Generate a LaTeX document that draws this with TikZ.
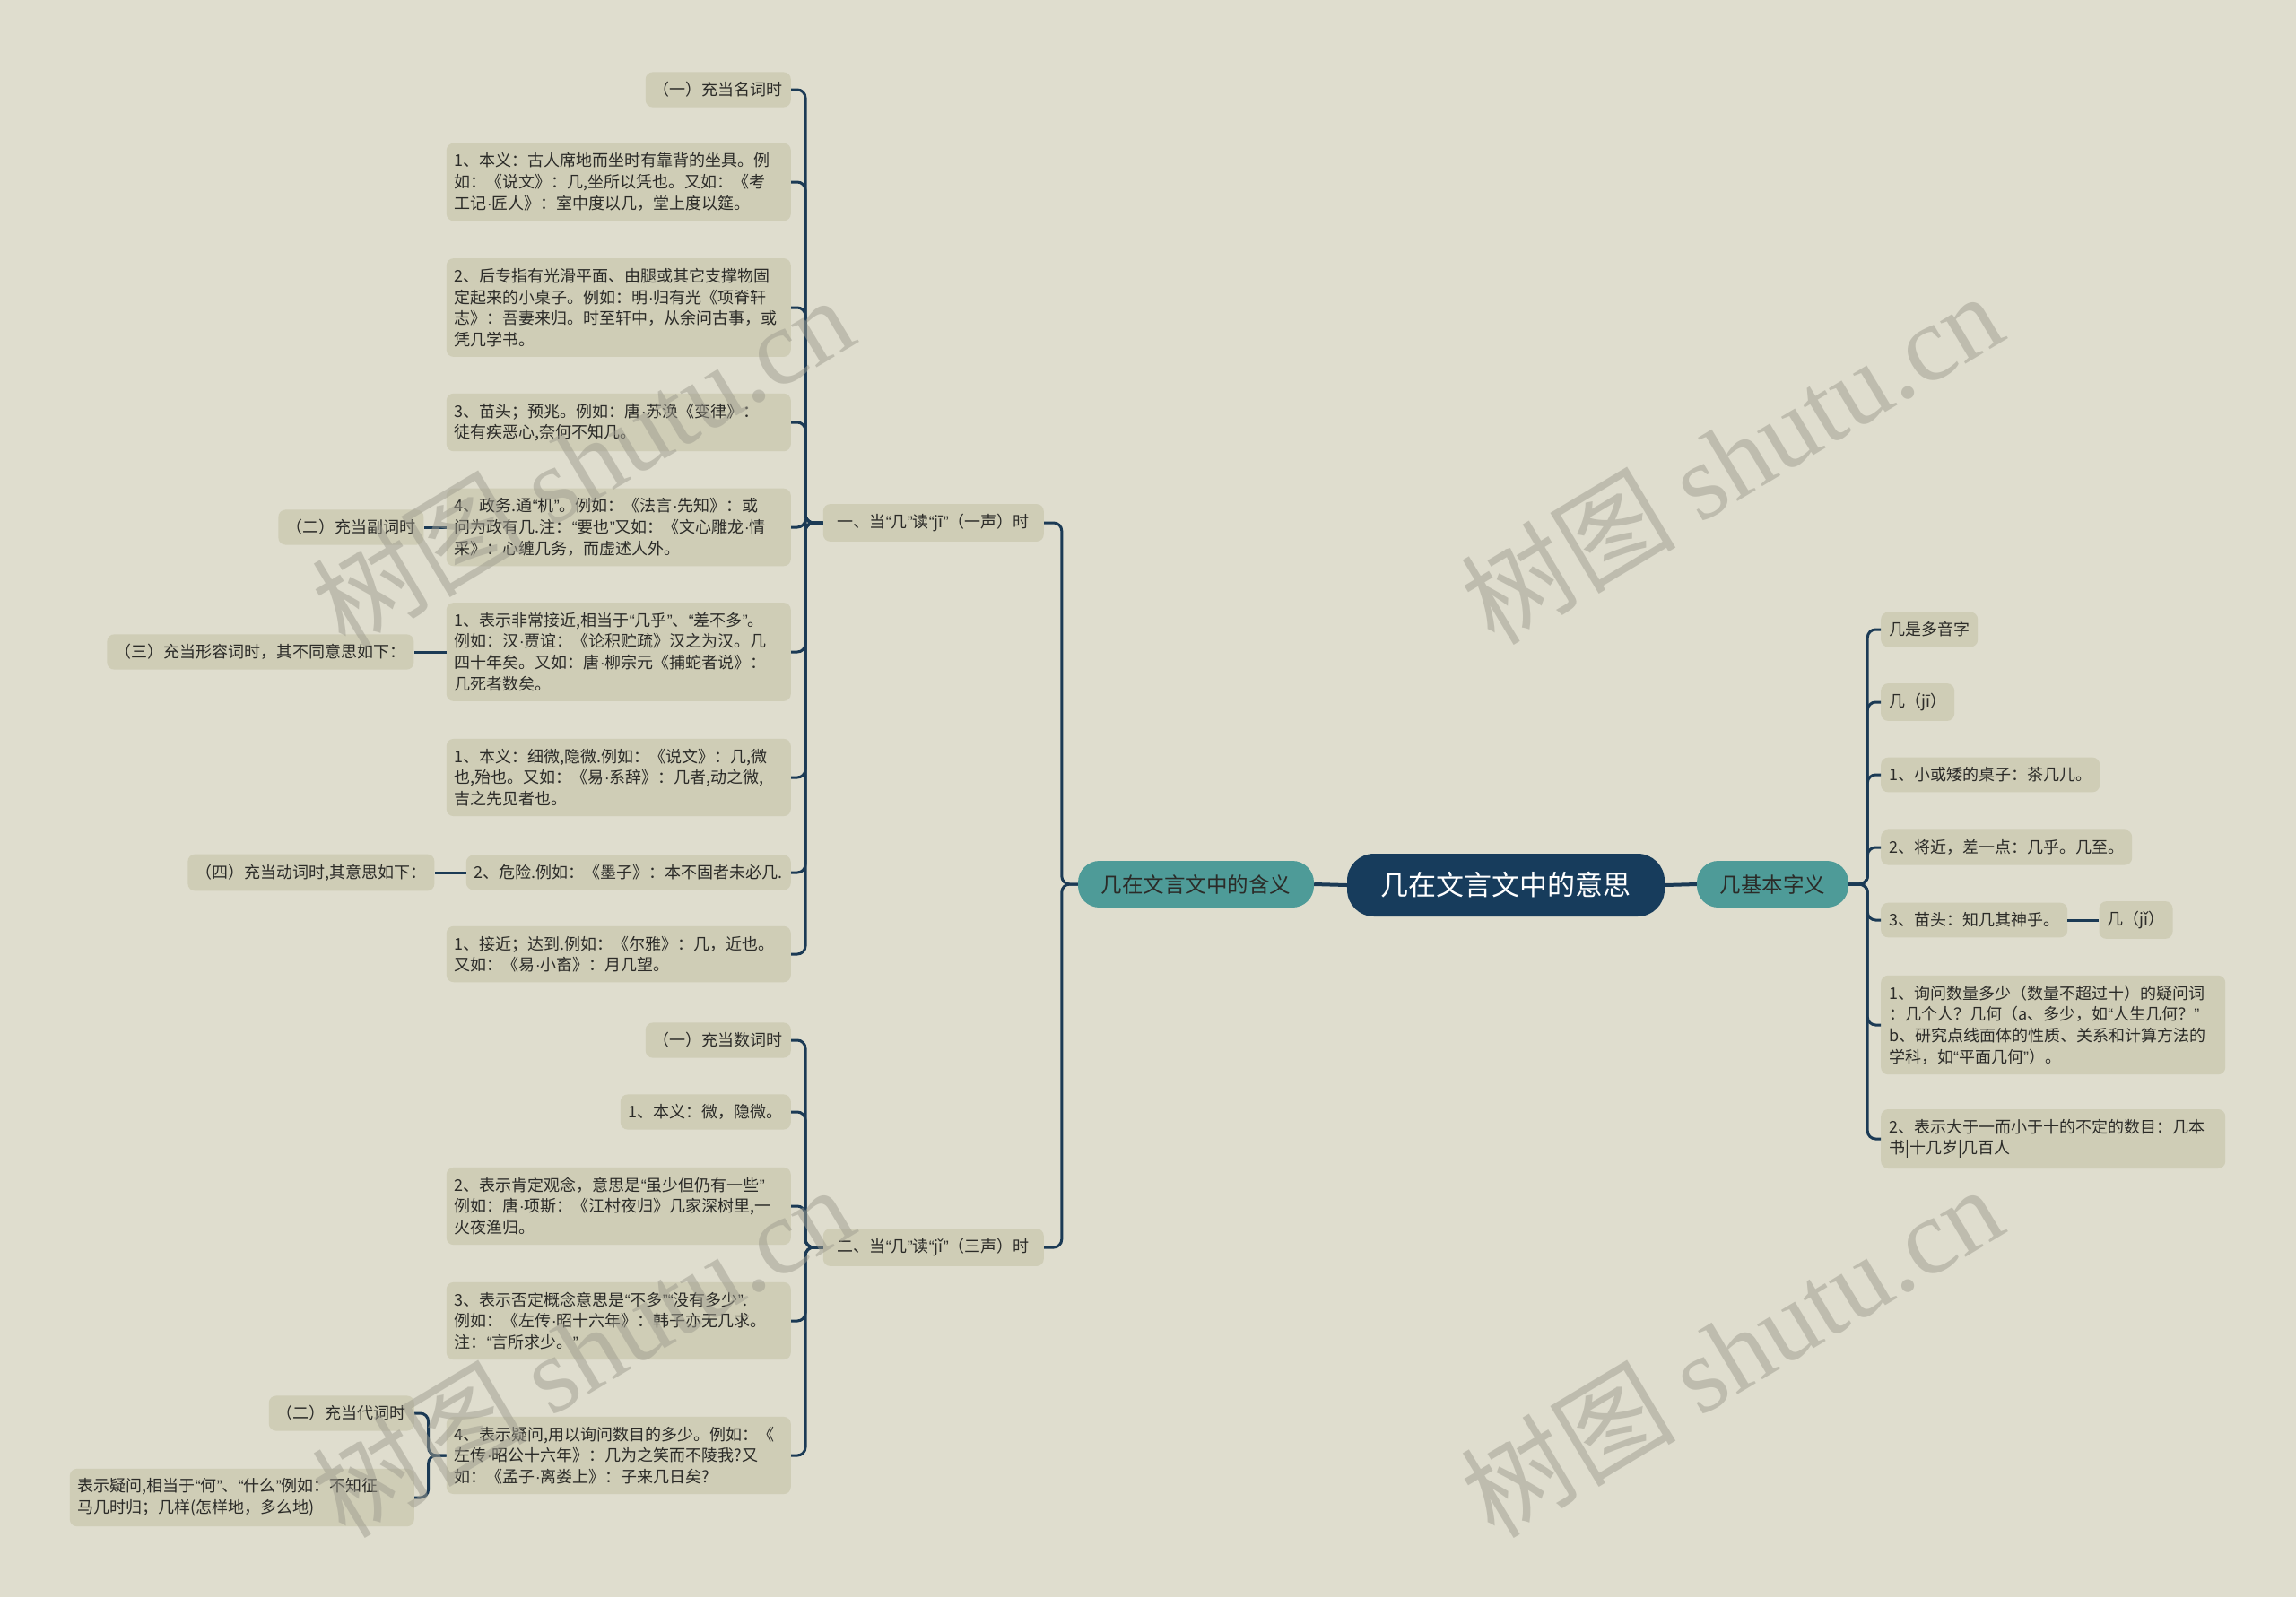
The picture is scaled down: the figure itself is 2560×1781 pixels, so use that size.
\documentclass[tikz,border=0pt]{standalone}
\usepackage{fontspec}
\usepackage{newunicodechar}
\setmainfont{Noto Sans CJK SC}
\newfontfamily\marcalatin{Liberation Serif}
\newfontfamily\signos{Liberation Sans}
% comillas y punto medio estrechos, como en el original
\newunicodechar{“}{{\signos\symbol{"201C}}}
\newunicodechar{”}{{\signos\symbol{"201D}}}
\newunicodechar{·}{{\signos\symbol{"00B7}}}
\usetikzlibrary{positioning,calc}
\definecolor{fondo}{HTML}{DFDDCE}
\definecolor{caja}{HTML}{CFCDB6}
\definecolor{azulosc}{HTML}{173C5C}
\definecolor{verdeazul}{HTML}{4E9B98}
\definecolor{linea}{HTML}{1B3A55}
\definecolor{texto}{HTML}{2B2B28}
\definecolor{marca}{HTML}{9E9C8F}
\tikzset{
    raiz/.style={
        rectangle,
        rounded corners=30pt,     % forma de píldora
        fill=azulosc,             % azul oscuro para el tema central
        text=white,
        minimum width=354pt,
        minimum height=70pt,
        font=\fontsize{31pt}{36pt}\selectfont
    },
    rama/.style={
        rectangle,
        rounded corners=24pt,     % también redondeada
        fill=verdeazul,           % verde azulado para las ramas principales
        text=texto,
        minimum height=52pt,
        font=\fontsize{23.5pt}{28pt}\selectfont
    },
    hoja/.style={
        rectangle,
        rounded corners=8pt,      % esquinas suaves
        fill=caja,                % relleno beige algo más oscuro que el fondo
        text=texto,
        inner xsep=9pt,
        inner ysep=11pt,
        font=\fontsize{18pt}{23.7pt}\selectfont
    },
    hojaancha/.style={
        hoja,
        text width=366pt,         % cajas de párrafo, todas del mismo ancho
        align=left
    },
    enlace/.style={
        draw=linea,
        line width=3pt,
        rounded corners=9pt       % curva al salir de la barra vertical
    },
    marcaagua/.style={
        text=marca,
        opacity=0.5,
        rotate=31,
        font=\fontsize{120pt}{130pt}\selectfont
    }
}
\begin{document}
\begin{tikzpicture}[x=1pt,y=-1pt]
    \fill[fondo] (0,0) rectangle (2560,1781);
    \useasboundingbox (0,0) rectangle (2560,1781);

    % centro y ramas
    \node[raiz] (raiz) at (1679,987) {几在文言文中的意思};
    \node[rama, minimum width=263pt] (hanyi) at (1333.5,986) {几在文言文中的含义};
    \node[rama, minimum width=169pt] (ziyi) at (1976.5,986) {几基本字义};

    \node[hoja, anchor=east, minimum width=246pt] (yisheng) at (1164,583) {一、当“几”读“jī”（一声）时};
    \node[hoja, anchor=east, minimum width=246pt] (sansheng) at (1164,1391) {二、当“几”读“jǐ”（三声）时};
    \coordinate (barra1) at (898,583);
    \coordinate (barra2) at (898,1391);

    % una voz
    \node[hoja, anchor=east] (a1) at (882,100) {（一）充当名词时};
    \node[hojaancha, anchor=east] (a2) at (882,203) {1、本义：古人席地而坐时有靠背的坐具。例\\如：《说文》：几,坐所以凭也。又如：《考\\工记·匠人》：室中度以几，堂上度以筵。};
    \node[hojaancha, anchor=east] (a3) at (882,343) {2、后专指有光滑平面、由腿或其它支撑物固\\定起来的小桌子。例如：明·归有光《项脊轩\\志》：吾妻来归。时至轩中，从余问古事，或\\凭几学书。};
    \node[hojaancha, anchor=east] (a4) at (882,471) {3、苗头；预兆。例如：唐·苏涣《变律》：\\徒有疾恶心,奈何不知几。};
    \node[hojaancha, anchor=east] (a5) at (882,588) {4、政务.通“机”。例如：《法言·先知》：或\\问为政有几.注：“要也”又如：《文心雕龙·情\\采》：心缠几务，而虚述人外。};
    \node[hojaancha, anchor=east] (a6) at (882,727) {1、表示非常接近,相当于“几乎”、“差不多”。\\例如：汉·贾谊：《论积贮疏》汉之为汉。几\\四十年矣。又如：唐·柳宗元《捕蛇者说》：\\几死者数矣。};
    \node[hojaancha, anchor=east] (a7) at (882,867) {1、本义：细微,隐微.例如：《说文》：几,微\\也,殆也。又如：《易·系辞》：几者,动之微,\\吉之先见者也。};
    \node[hoja, anchor=east] (a8) at (882,973) {2、危险.例如：《墨子》：本不固者未必几.};
    \node[hojaancha, anchor=east] (a9) at (882,1064) {1、接近；达到.例如：《尔雅》：几，近也。\\又如：《易·小畜》：月几望。};

    \node[hoja, left=25pt of a5] (b5) {（二）充当副词时};
    \node[hoja, left=36pt of a6] (b6) {（三）充当形容词时，其不同意思如下：};
    \node[hoja, left=35pt of a8] (b8) {（四）充当动词时,其意思如下：};

    % tres voces
    \node[hoja, anchor=east] (d1) at (882,1160) {（一）充当数词时};
    \node[hoja, anchor=east] (d2) at (882,1240) {1、本义：微，隐微。};
    \node[hojaancha, anchor=east] (d3) at (882,1345) {2、表示肯定观念，意思是“虽少但仍有一些”\\例如：唐·项斯：《江村夜归》几家深树里,一\\火夜渔归。};
    \node[hojaancha, anchor=east] (d4) at (882,1473) {3、表示否定概念意思是“不多”“没有多少”.\\例如：《左传·昭十六年》：韩子亦无几求。\\注：“言所求少。”};
    \node[hojaancha, anchor=east] (d5) at (882,1623) {4、表示疑问,用以询问数目的多少。例如：《\\左传·昭公十六年》：几为之笑而不陵我?又\\如：《孟子·离娄上》：子来几日矣?};

    \node[hoja, anchor=east] (e1) at (462,1576) {（二）充当代词时};
    \node[hojaancha, anchor=east] (e2) at (462,1670) {表示疑问,相当于“何”、“什么”例如：不知征\\马几时归；几样(怎样地，多么地)};

    % lado derecho
    \node[hoja, anchor=west] (r1) at (2097,702) {几是多音字};
    \node[hoja, anchor=west] (r2) at (2097,783) {几（jī）};
    \node[hoja, anchor=west] (r3) at (2097,864) {1、小或矮的桌子：茶几儿。};
    \node[hoja, anchor=west] (r4) at (2097,945) {2、将近，差一点：几乎。几至。};
    \node[hoja, anchor=west] (r5) at (2097,1026) {3、苗头：知几其神乎。};
    \node[hojaancha, anchor=west] (r6) at (2097,1143) {1、询问数量多少（数量不超过十）的疑问词\\：几个人？几何（a、多少，如“人生几何？”\\b、研究点线面体的性质、关系和计算方法的\\学科，如“平面几何”）。};
    \node[hojaancha, anchor=west] (r7) at (2097,1270) {2、表示大于一而小于十的不定的数目：几本\\书|十几岁|几百人};
    \node[hoja, right=35pt of r5] (r5b) {几（jǐ）};

    % conexiones
    \draw[enlace, line width=4pt] (raiz.west) -- (hanyi.east);
    \draw[enlace, line width=4pt] (raiz.east) -- (ziyi.west);
    \foreach \n in {yisheng,sansheng}
        \draw[enlace] (hanyi.west) -- ++(-18,0) |- (\n.east);
    \foreach \i in {1,...,9}
        \draw[enlace] (yisheng.west) -- (barra1) |- (a\i.east);
    \foreach \i in {1,...,5}
        \draw[enlace] (sansheng.west) -- (barra2) |- (d\i.east);
    \draw[enlace] (a5.west) -- (b5.east);
    \draw[enlace] (a6.west) -- (b6.east);
    \draw[enlace] (a8.west) -- (b8.east);
    \foreach \n in {e1,e2}
        \draw[enlace] (d5.west) -- ++(-20,0) |- (\n.east);
    \foreach \i in {1,...,7}
        \draw[enlace] (ziyi.east) -- ++(21,0) |- (r\i.west);
    \draw[enlace] (r5.east) -- (r5b.west);

    % marcas de agua
    \node[marcaagua] (marca1) at (649,514) {树图 {\marcalatin shutu.cn}};
    \node[marcaagua] (marca2) at (1930,510) {树图 {\marcalatin shutu.cn}};
    \node[marcaagua] (marca3) at (649,1506) {树图 {\marcalatin shutu.cn}};
    \node[marcaagua] (marca4) at (1930,1506) {树图 {\marcalatin shutu.cn}};
\end{tikzpicture}
\end{document}
